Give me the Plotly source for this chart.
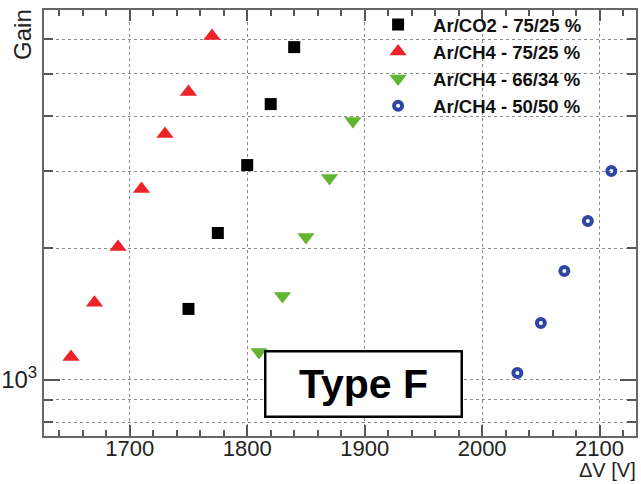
import plotly.graph_objects as go

# ---- data ----
v_co2_7525 = [1750, 1775, 1800, 1820, 1840]
g_co2_7525 = [1453, 2166, 3096, 4267, 5757]

v_ch4_7525 = [1650, 1670, 1690, 1710, 1730, 1750, 1770]
g_ch4_7525 = [1128, 1501, 2012, 2731, 3644, 4545, 6101]

v_ch4_6634 = [1810, 1830, 1850, 1870, 1890]
g_ch4_6634 = [1159, 1555, 2121, 2892, 3902]

v_ch4_5050 = [2030, 2050, 2070, 2090, 2110]
g_ch4_5050 = [1037, 1349, 1774, 2307, 3000]

x_major = [1700, 1800, 1900, 2000, 2100]
y_major = [1000]
y_major_text = ["10<sup>3</sup>"]
y_minor = [800, 900, 2000, 3000, 4000, 5000, 6000, 7000]

names = ["Ar/CO2 - 75/25 %", "Ar/CH4 - 75/25 %", "Ar/CH4 - 66/34 %", "Ar/CH4 - 50/50 %"]

FONT = "Liberation Sans, Arial, sans-serif"

fig = go.Figure()
fig.add_trace(go.Scatter(x=v_co2_7525, y=g_co2_7525, mode="markers", name=names[0], legendgroup="a",
                         marker=dict(symbol="square", size=12, color="#000000")))
fig.add_trace(go.Scatter(x=v_ch4_7525, y=g_ch4_7525, mode="markers", name=names[1], legendgroup="b",
                         marker=dict(symbol="triangle-up", size=15, color="#ee2229")))
fig.add_trace(go.Scatter(x=v_ch4_6634, y=g_ch4_6634, mode="markers", name=names[2], legendgroup="c",
                         marker=dict(symbol="triangle-down", size=15, color="#62b531")))
fig.add_trace(go.Scatter(x=v_ch4_5050, y=g_ch4_5050, mode="markers", name=names[3], legendgroup="d",
                         marker=dict(symbol="circle-open", size=8, color="#2f47a3",
                                     line=dict(width=4, color="#2f47a3"))))

axis_common = dict(showline=True, linecolor="#666666", linewidth=2, mirror="ticks",
                   ticks="inside", tickcolor="#555555", tickwidth=1.5,
                   showgrid=True, gridcolor="#8a8a8a", griddash="dot", gridwidth=1,
                   zeroline=False, automargin=False)

fig.update_xaxes(**axis_common, range=[1627, 2131], tickmode="array", tickvals=x_major,
                 ticklen=11, ticklabelstandoff=-8,
                 tickfont=dict(family=FONT, size=22, color="#222222"),
                 minor=dict(dtick=20, tick0=1600, ticks="inside", ticklen=6, tickcolor="#555555",
                            showgrid=False))
fig.update_yaxes(**axis_common, type="log", range=[2.872, 3.845], tickmode="array",
                 tickvals=y_major, ticktext=y_major_text, ticklen=16,
                 tickfont=dict(family=FONT, size=24, color="#222222"),
                 minor=dict(tickmode="array", tickvals=y_minor, ticks="inside", ticklen=9,
                            tickcolor="#555555", showgrid=True, gridcolor="#8a8a8a",
                            griddash="dot", gridwidth=1))

fig.update_layout(
    width=641, height=484,
    margin=dict(l=44, r=5, t=10, b=48),
    paper_bgcolor="white", plot_bgcolor="white",
    font=dict(family=FONT, color="#111111"),
    legend=dict(x=0.539, y=1.0094, xanchor="left", yanchor="top", bgcolor="rgba(0,0,0,0)",
                borderwidth=0, itemwidth=60, tracegroupgap=0, traceorder="grouped",
                font=dict(family=FONT, size=18.5, color="#111111", weight="bold")),
    shapes=[dict(type="rect", xref="paper", yref="paper", x0=0.546, x1=1.0, y0=0.7465, y1=1.0,
                 fillcolor="white", line=dict(width=0), layer="below")],
    annotations=[
        dict(text="Gain", xref="paper", yref="paper", x=-0.0355, y=0.9437, textangle=-90,
             showarrow=False, xanchor="center", yanchor="middle",
             font=dict(family=FONT, size=24, color="#222222")),
        dict(text="ΔV [V]", xref="paper", yref="paper", x=1.003, y=-0.1103,
             showarrow=False, xanchor="right", yanchor="bottom",
             font=dict(family=FONT, size=20, color="#222222")),
        dict(text="<b>Type F</b>", xref="paper", yref="paper", x=0.5405, y=0.122,
             showarrow=False, xanchor="center", yanchor="middle", width=192, height=61,
             bgcolor="white", bordercolor="black", borderwidth=2.5,
             font=dict(family=FONT, size=41, color="black")),
    ],
)

fig.write_html("out.html")
